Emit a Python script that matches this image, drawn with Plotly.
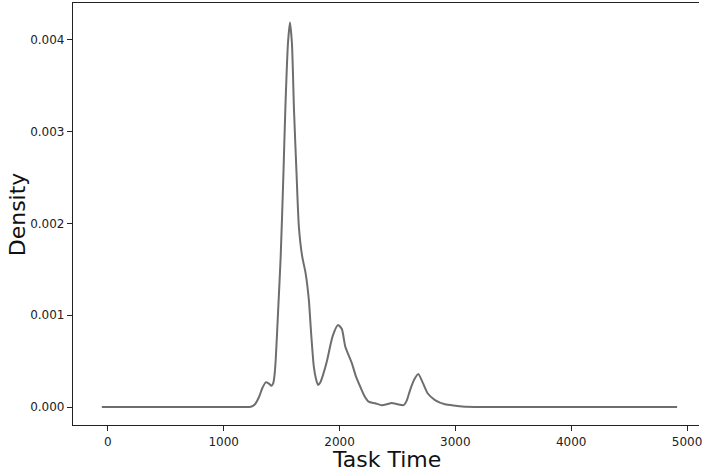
import plotly.graph_objects as go

# Density curve values (x: task time, y: density)
task_time = [-52, 600, 1150, 1234, 1270, 1306, 1335, 1363, 1390, 1412, 1428, 1440, 1449,
             1470, 1492, 1515, 1532, 1555, 1572, 1589, 1607, 1630, 1649, 1678, 1707, 1735,
             1755, 1778, 1798, 1815, 1835, 1860, 1893, 1940, 1987, 2020, 2050, 2107, 2140,
             2179, 2215, 2251, 2308, 2365, 2410, 2451, 2500, 2552, 2580, 2609, 2645, 2680,
             2720, 2760, 2824, 2910, 3000, 3096, 3500, 4200, 4914]
density_e3 = [0, 0, 0, 0.002, 0.03, 0.112, 0.21, 0.269, 0.255, 0.232, 0.26, 0.36, 0.512,
              1.05, 1.638, 2.51, 3.237, 3.967, 4.19, 3.967, 3.237, 2.51, 1.965, 1.638, 1.46, 1.17,
              0.80, 0.44, 0.30, 0.24, 0.27, 0.36, 0.51, 0.77, 0.894, 0.85, 0.657, 0.476, 0.34,
              0.221, 0.12, 0.058, 0.04, 0.02, 0.03, 0.044, 0.03, 0.02, 0.07, 0.185, 0.30, 0.36,
              0.26, 0.15, 0.076, 0.03, 0.015, 0.003, 0, 0, 0]
density = [v / 1000 for v in density_e3]

x_ticks = [0, 1000, 2000, 3000, 4000, 5000]
y_ticks = [0.000, 0.001, 0.002, 0.003, 0.004]
y_tick_labels = ["0.000", "0.001", "0.002", "0.003", "0.004"]

fig = go.Figure()
fig.add_trace(go.Scatter(
    x=task_time, y=density, mode="lines",
    line=dict(color="#6e6e6e", width=2, shape="spline", smoothing=0.6),
    hoverinfo="skip", showlegend=False,
))

axis_common = dict(
    showgrid=False, zeroline=False, showline=True, linecolor="#222222", linewidth=1.2,
    ticks="outside", ticklen=5, tickwidth=1, tickcolor="#222222",
    tickfont=dict(family="DejaVu Sans", size=12, color="#222222"),
    ticklabeloverflow="allow",
)

fig.update_layout(
    width=702, height=473,
    margin=dict(l=73, r=0, t=3, b=48),
    plot_bgcolor="white", paper_bgcolor="white",
    xaxis=dict(range=[-300.7, 5103], tickvals=x_ticks, mirror=True, **axis_common),
    yaxis=dict(range=[-0.000196, 0.004403], tickvals=y_ticks, ticktext=y_tick_labels,
               mirror=False, **axis_common),
    annotations=[
        dict(text="Task Time", xref="paper", yref="paper", x=0.5, y=(425 - 459) / 422,
             xanchor="center", yanchor="middle", showarrow=False,
             font=dict(family="DejaVu Sans", size=22, color="#111111")),
        dict(text="Density", xref="paper", yref="paper", x=(17 - 73) / 629, y=0.5,
             xanchor="center", yanchor="middle", textangle=-90, showarrow=False,
             font=dict(family="DejaVu Sans", size=22, color="#111111")),
    ],
)

fig.write_html("out.html", config={"displayModeBar": False},
               post_script="document.body.style.margin='0';document.body.style.overflow='hidden';")
